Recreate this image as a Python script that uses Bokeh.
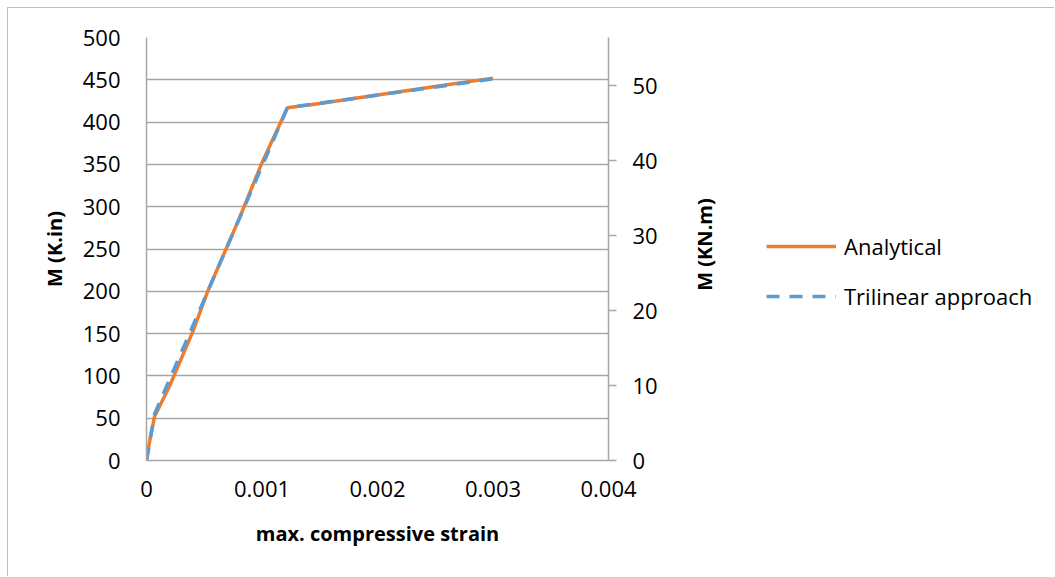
import math
from bokeh.plotting import figure
from bokeh.layouts import row
from bokeh.models import (LinearAxis, Range1d, FixedTicker, Legend, LegendItem, Label)
from bokeh.embed import file_html
from bokeh.resources import INLINE

# Data (strain, moment in K.in)
analytical_x = [0, 0.00003, 0.00007, 0.0002, 0.0004, 0.00053, 0.0008, 0.001, 0.00122, 0.0015, 0.002, 0.0025, 0.003]
analytical_y = [0, 25, 52, 88, 152, 200, 285, 352, 417, 422, 432, 442, 452]
trilinear_x = [0, 0.00007, 0.00122, 0.003]
trilinear_y = [0, 55, 417, 451]
x_ticks = [0, 0.001, 0.002, 0.003, 0.004]
y_ticks = [0, 50, 100, 150, 200, 250, 300, 350, 400, 450, 500]
y2_ticks = [0, 10, 20, 30, 40, 50]
series_names = ["Analytical", "Trilinear approach"]
x_title = "max. compressive strain"
y_title = "M (K.in)"
y2_title = "M (KN.m)"

FONT = "Open Sans"
GRAY = "#a6a6a6"
BORDER = "1px solid #bfbfbf"
ORANGE = "#ED7D31"
BLUE = "#5B9BD5"
DASH = "13 10"

p = figure(width=682, height=569, output_backend="svg", toolbar_location=None,
           x_range=Range1d(0, 0.004), y_range=Range1d(0, 500),
           min_border_left=138, min_border_right=82, min_border_top=29,
           min_border_bottom=117)
p.margin = (7, 0, 0, 7)
p.styles = {"border-left": BORDER, "border-top": BORDER}
p.outline_line_color = None
p.background_fill_color = "white"
p.border_fill_color = "white"

p.extra_y_ranges = {"kn": Range1d(0, 56.4)}

# grid
p.xgrid.visible = False
p.ygrid.ticker = FixedTicker(ticks=y_ticks)
p.ygrid.grid_line_color = GRAY
p.ygrid.grid_line_width = 1.3

# x axis
p.xaxis.ticker = FixedTicker(ticks=x_ticks)
p.xaxis.major_label_overrides = {0: "0", 0.001: "0.001", 0.002: "0.002", 0.003: "0.003", 0.004: "0.004"}
p.xaxis.axis_label = x_title

# left axis
p.yaxis.ticker = FixedTicker(ticks=y_ticks)
p.yaxis.axis_label = y_title

# right axis (title drawn separately so it reads bottom-to-top)
ax2 = LinearAxis(y_range_name="kn", ticker=FixedTicker(ticks=y2_ticks))
p.add_layout(ax2, "right")

for ax in [p.xaxis[0], p.yaxis[0], ax2]:
    ax.axis_line_color = GRAY
    ax.axis_line_width = 1.5
    ax.major_tick_line_color = GRAY
    ax.major_tick_line_width = 1.3
    ax.minor_tick_line_color = None
    ax.major_label_text_font = FONT
    ax.major_label_text_font_size = "22px"
    ax.major_label_text_color = "#000000"
    ax.axis_label_text_font = FONT
    ax.axis_label_text_font_size = "20px"
    ax.axis_label_text_font_style = "bold"
    ax.axis_label_text_color = "#000000"

p.xaxis.major_tick_out = 0
p.xaxis.major_tick_in = 0
p.xaxis.major_label_standoff = 20
p.xaxis.axis_label_standoff = 20
p.yaxis.major_tick_out = 0
p.yaxis.major_tick_in = 0
p.yaxis.major_label_standoff = 26
p.yaxis.axis_label_standoff = 12
ax2.major_tick_out = 8
ax2.major_tick_in = 0
ax2.major_label_standoff = 16

p.line(analytical_x, analytical_y, line_color=ORANGE, line_width=3.5)
p.line(trilinear_x, trilinear_y, line_color=BLUE, line_width=3.5, line_dash=DASH)

# right-hand panel: right axis title + legend (same series drawn off-view)
p2 = figure(width=365, height=569, output_backend="svg", toolbar_location=None,
            x_range=Range1d(10, 11), y_range=Range1d(10, 11), min_border=0)
p2.margin = (7, 0, 0, 0)
p2.styles = {"border-top": BORDER}
p2.axis.visible = False
p2.grid.visible = False
p2.outline_line_color = None
p2.border_fill_color = "white"
l1 = p2.line(analytical_x, analytical_y, line_color=ORANGE, line_width=3.5)
l2 = p2.line(trilinear_x, trilinear_y, line_color=BLUE, line_width=3.5, line_dash=DASH)

title2 = Label(x=15, y=216, x_units="screen", y_units="screen", text=y2_title,
               angle=math.pi / 2, text_align="center", text_baseline="middle",
               text_font=FONT, text_font_size="20px", text_font_style="bold",
               text_color="#000000")
p2.add_layout(title2)

legend = Legend(items=[LegendItem(label=series_names[0], renderers=[l1]),
                       LegendItem(label=series_names[1], renderers=[l2])],
                location=(77, 149), padding=0, margin=0, spacing=20,
                glyph_width=70, glyph_height=30, label_height=30, label_standoff=8,
                label_text_font=FONT, label_text_font_size="22px",
                label_text_color="#000000",
                border_line_color=None, background_fill_alpha=0)
p2.add_layout(legend, "center")

layout = row(p, p2)
open("out.html", "w").write(file_html(layout, INLINE))
